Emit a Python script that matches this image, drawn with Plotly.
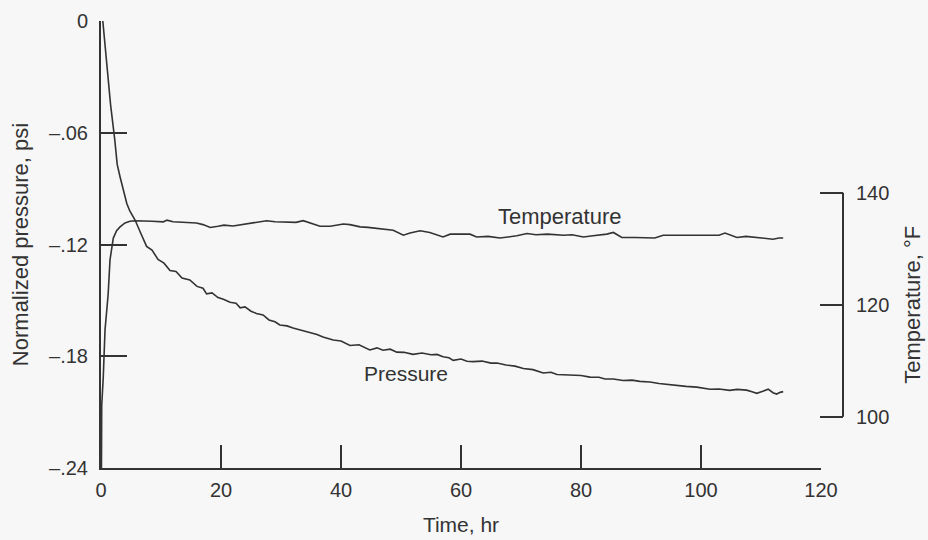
import plotly.graph_objects as go

# ---- data ----
time_p = [0.3, 1.0, 1.6, 2.3, 2.7, 3.2, 3.7, 4.3, 4.8, 5.7, 6.5, 7.6, 8.5, 9.5, 10.5, 11.5,
          12.5, 13.5, 14.8, 16, 17, 17.6, 18.5, 19.5, 20.4, 21.5, 22.5, 23.2, 24, 25, 25.9,
          27, 28, 29, 29.8, 31, 32, 33.2, 34.5, 36, 37, 38.7, 40, 41.5, 43, 44.8, 46, 47,
          48.2, 49.3, 50.5, 52, 53.5, 55, 56, 57, 58, 58.7, 60, 61, 62, 63.5, 65, 66, 67.5,
          69, 70.4, 72, 73.7, 75, 76, 77.1, 78.5, 80, 81.5, 83, 84, 85.4, 87, 88.5, 89.8,
          91.5, 93, 94.8, 96, 97.5, 99.3, 100.5, 101.5, 103, 104.8, 106, 107.6, 108.5,
          109.3, 110.3, 111.2, 112, 112.6, 113.2, 113.7]
pressure = [0.0, -0.025, -0.045, -0.064, -0.077, -0.084, -0.091, -0.098, -0.102, -0.107,
            -0.113, -0.121, -0.123, -0.128, -0.130, -0.134, -0.1345, -0.138, -0.139, -0.1425,
            -0.1435, -0.1465, -0.146, -0.1485, -0.1494, -0.151, -0.1515, -0.1540, -0.1535,
            -0.1558, -0.157, -0.1578, -0.1605, -0.1615, -0.1632, -0.1637, -0.1648, -0.1658,
            -0.1672, -0.1683, -0.1697, -0.1713, -0.1718, -0.1742, -0.1738, -0.1766, -0.1755,
            -0.1768, -0.1762, -0.1778, -0.1779, -0.1790, -0.1783, -0.1792, -0.1790, -0.1803,
            -0.1808, -0.1822, -0.1815, -0.1827, -0.1829, -0.1826, -0.1837, -0.1836, -0.1847,
            -0.1853, -0.1866, -0.1872, -0.1890, -0.1886, -0.1898, -0.1899, -0.1904, -0.1903,
            -0.1912, -0.1913, -0.1922, -0.1922, -0.1930, -0.1928, -0.1935, -0.1938, -0.1946,
            -0.1953, -0.1957, -0.1962, -0.1966, -0.1972, -0.1977, -0.1976, -0.1983, -0.1978,
            -0.1982, -0.1991, -0.1999, -0.1988, -0.1977, -0.1996, -0.2003, -0.1994, -0.1990]

time_t = [0.05, 0.12, 0.38, 0.67, 1.0, 1.2, 1.5, 2.05, 2.6, 3.17, 4.0, 4.83, 5.67, 7, 8.5,
          10.4, 11, 12, 14, 15.9, 17, 18.2, 19.5, 20.5, 22, 23.5, 25, 26.5, 27.6, 29, 31,
          32.5, 33.7, 35, 36.5, 38.2, 40.4, 41.5, 43.2, 44.5, 46.5, 48.7, 50.4, 51.5, 53.2,
          54.8, 57, 58.2, 60, 61.5, 62.6, 64.5, 66.5, 68, 69.3, 71, 72.5, 74.4, 77.1, 78.5,
          80.4, 82, 84.3, 85.4, 86.8, 89, 91.5, 92.3, 93.7, 97, 101, 103, 104, 106, 107.5,
          109.3, 110.5, 112, 113, 113.7]
temperature = [85, 102, 107.1, 115.5, 119.5, 122, 128, 131.9, 133.2, 133.9, 134.6, 134.9,
               135.0, 134.9, 134.9, 134.8, 135.1, 134.8, 134.7, 134.6, 134.3, 133.8, 134.0,
               134.2, 134.05, 134.3, 134.5, 134.8, 135.0, 134.8, 134.8, 134.7, 135.0, 134.6,
               134.0, 134.0, 134.4, 134.3, 133.9, 133.8, 133.5, 133.3, 132.4, 132.8, 133.2,
               132.9, 132.1, 132.6, 132.6, 132.6, 132.1, 132.2, 131.9, 132.1, 132.3, 132.7,
               132.5, 132.6, 132.4, 132.5, 132.1, 132.3, 132.6, 132.9, 132.0, 132.0, 132.0,
               131.9, 132.4, 132.4, 132.3, 132.4, 132.8, 132.0, 132.2, 132.0, 131.9, 131.7,
               131.9, 131.9]

x_ticks = [0, 20, 40, 60, 80, 100, 120]
p_ticks = [-0.24, -0.18, -0.12, -0.06, 0]
p_tick_text = ["\u2013.24", "\u2013.18", "\u2013.12", "\u2013.06", "0"]
t_ticks = [100, 120, 140]

INK = "#333333"
BG = "#f7f7f7"
FONT = "Liberation Sans, Arial, sans-serif"
FS = 20

W, H = 928, 540
ML, MR, MT, MB = 101, 85, 21, 72

fig = go.Figure()
fig.add_trace(go.Scatter(x=time_p, y=pressure, mode="lines",
                         line=dict(color=INK, width=1.6), yaxis="y", showlegend=False))
fig.add_trace(go.Scatter(x=time_t, y=temperature, mode="lines",
                         line=dict(color=INK, width=1.6), yaxis="y2", showlegend=False))

fig.update_layout(
    width=W, height=H,
    margin=dict(l=ML, r=MR, t=MT, b=MB, autoexpand=False),
    paper_bgcolor=BG, plot_bgcolor=BG,
    font=dict(family=FONT, size=FS, color=INK),
    xaxis=dict(domain=[0, 0.97035], range=[0, 120], tickvals=x_ticks,
               ticks="inside", ticklen=23, tickwidth=2, tickcolor=INK,
               ticklabelstandoff=3, automargin=False,
               showline=True, linewidth=2, linecolor=INK,
               showgrid=False, zeroline=False,
               title=dict(text="Time, hr", standoff=17, font=dict(size=21))),
    yaxis=dict(range=[-0.24, 0], tickvals=p_ticks, ticktext=p_tick_text,
               ticks="inside", ticklen=26, tickwidth=2, tickcolor=INK,
               ticklabelstandoff=7, automargin=False,
               showline=True, linewidth=2, linecolor=INK,
               showgrid=False, zeroline=False,
               title=dict(text="Normalized pressure, psi", standoff=14, font=dict(size=22))),
    yaxis2=dict(overlaying="y", anchor="free", position=1, side="right",
                range=[90.84, 170.66], tickvals=t_ticks,
                ticks="inside", ticklen=23, tickwidth=2, tickcolor=INK,
                ticklabelstandoff=12, automargin=False,
                showline=False, showgrid=False, zeroline=False),
    shapes=[dict(type="line", xref="paper", yref="y2", x0=1, x1=1, y0=100, y1=140,
                 line=dict(color=INK, width=2))],
    annotations=[
        dict(text="Temperature", x=76.5, y=-0.1047, xref="x", yref="y",
             showarrow=False, font=dict(size=22)),
        dict(text="Pressure", x=50.9, y=-0.1892, xref="x", yref="y",
             showarrow=False, font=dict(size=21)),
        dict(text="Temperature, \u00b0F", x=(913 - ML) / (W - ML - MR), y=120,
             xref="paper", yref="y2", xanchor="center", yanchor="middle",
             showarrow=False, textangle=-90, font=dict(size=22)),
    ],
)

fig.write_html("out.html", config={"displayModeBar": False},
               post_script="document.body.style.margin='0';document.body.style.background='%s';" % BG)
